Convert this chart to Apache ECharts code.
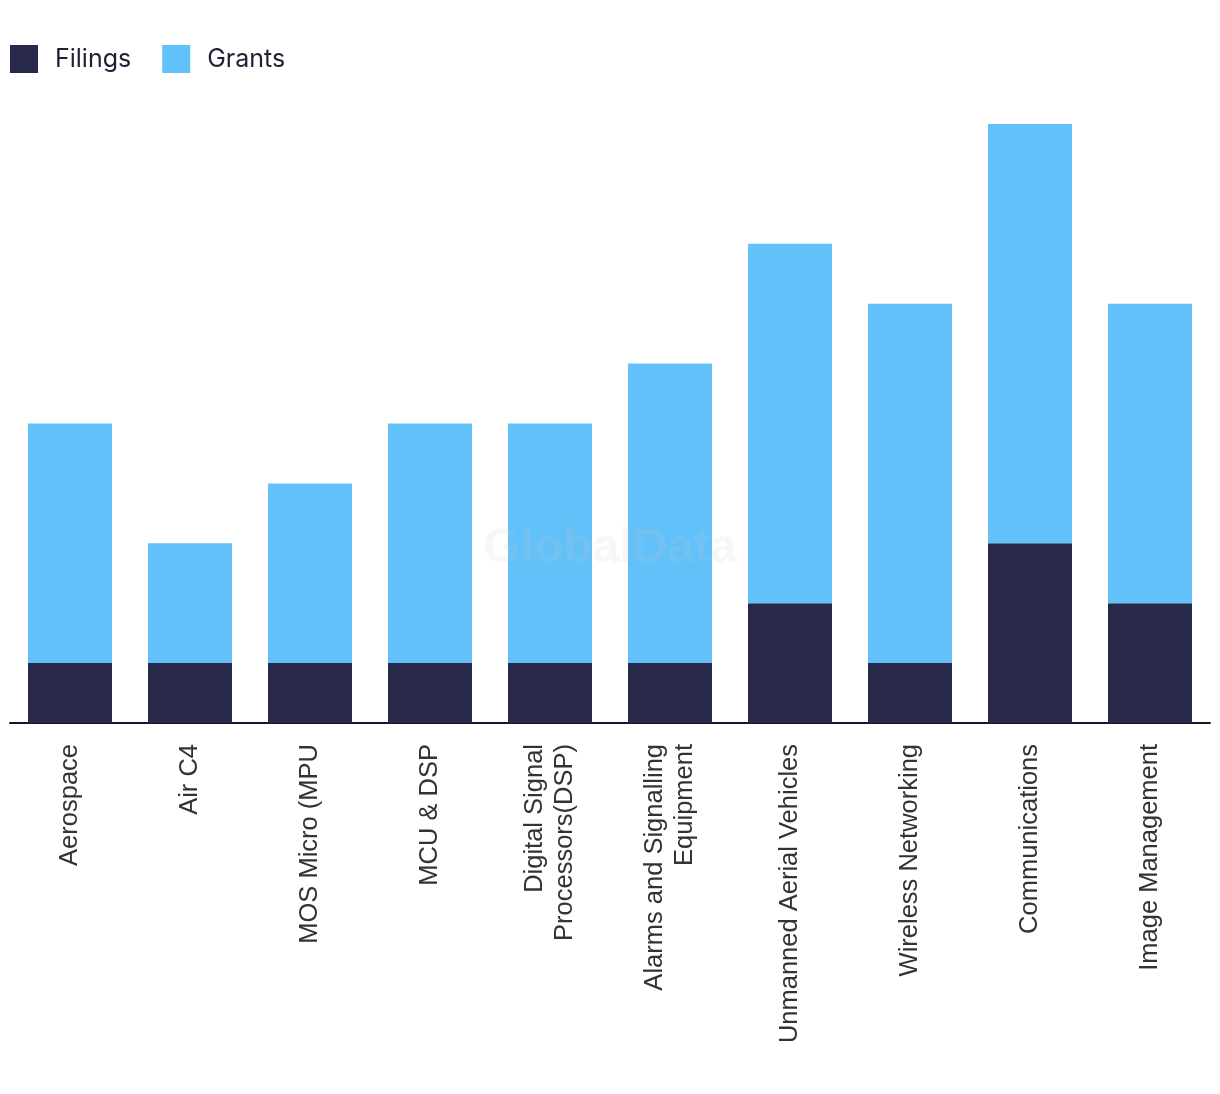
<!DOCTYPE html>
<html>
<head>
<meta charset="utf-8">
<script src="https://cdn.jsdelivr.net/npm/echarts@6/dist/echarts.min.js"></script>
<style>
html,body{margin:0;padding:0;background:#fff;}
#chart{width:1220px;height:1094px;}
</style>
</head>
<body>
<div id="chart"></div>
<script>
const categories = ["Aerospace", "Air C4", "MOS Micro (MPU", "MCU & DSP", "Digital Signal\nProcessors(DSP)", "Alarms and Signalling\nEquipment", "Unmanned Aerial Vehicles", "Wireless Networking", "Communications", "Image Management"];
const filings = [1, 1, 1, 1, 1, 1, 2, 1, 3, 2];
const grants = [4, 2, 3, 4, 4, 5, 6, 6, 7, 5];

const chart = echarts.init(document.getElementById('chart'));
chart.setOption({
  animation: false,
  legend: {
    left: 10, top: 45, padding: 0,
    itemWidth: 28, itemHeight: 28, itemGap: 31,
    icon: 'rect',
    textStyle: { fontFamily: 'Inter', fontSize: 25, color: '#1f2035', padding: [0, 0, 0, 12] },
    data: ['Filings', 'Grants']
  },
  graphic: [{
    type: 'text', left: 'center', top: 525, z: 100,
    style: { text: 'GlobalData', font: 'bold 48px "Liberation Sans"', fill: 'rgba(200,200,200,0.15)' }
  }],
  grid: { left: 10, right: 10, top: 124, bottom: 371 },
  xAxis: {
    type: 'category', data: categories,
    axisLine: { lineStyle: { color: '#15162b', width: 2 } },
    axisTick: { show: false },
    axisLabel: { rotate: 90, interval: 0, margin: 21, fontFamily: 'Liberation Sans', fontSize: 25.5, color: '#333', lineHeight: 30 }
  },
  yAxis: { type: 'value', min: 0, max: 10, show: false, splitLine: { show: false } },
  series: [
    { name: 'Filings', type: 'bar', stack: 'a', data: filings, barWidth: '70%', itemStyle: { color: '#27284a' } },
    { name: 'Grants', type: 'bar', stack: 'a', data: grants, barWidth: '70%', itemStyle: { color: '#62c1f9' } }
  ]
});
</script>
</body>
</html>
